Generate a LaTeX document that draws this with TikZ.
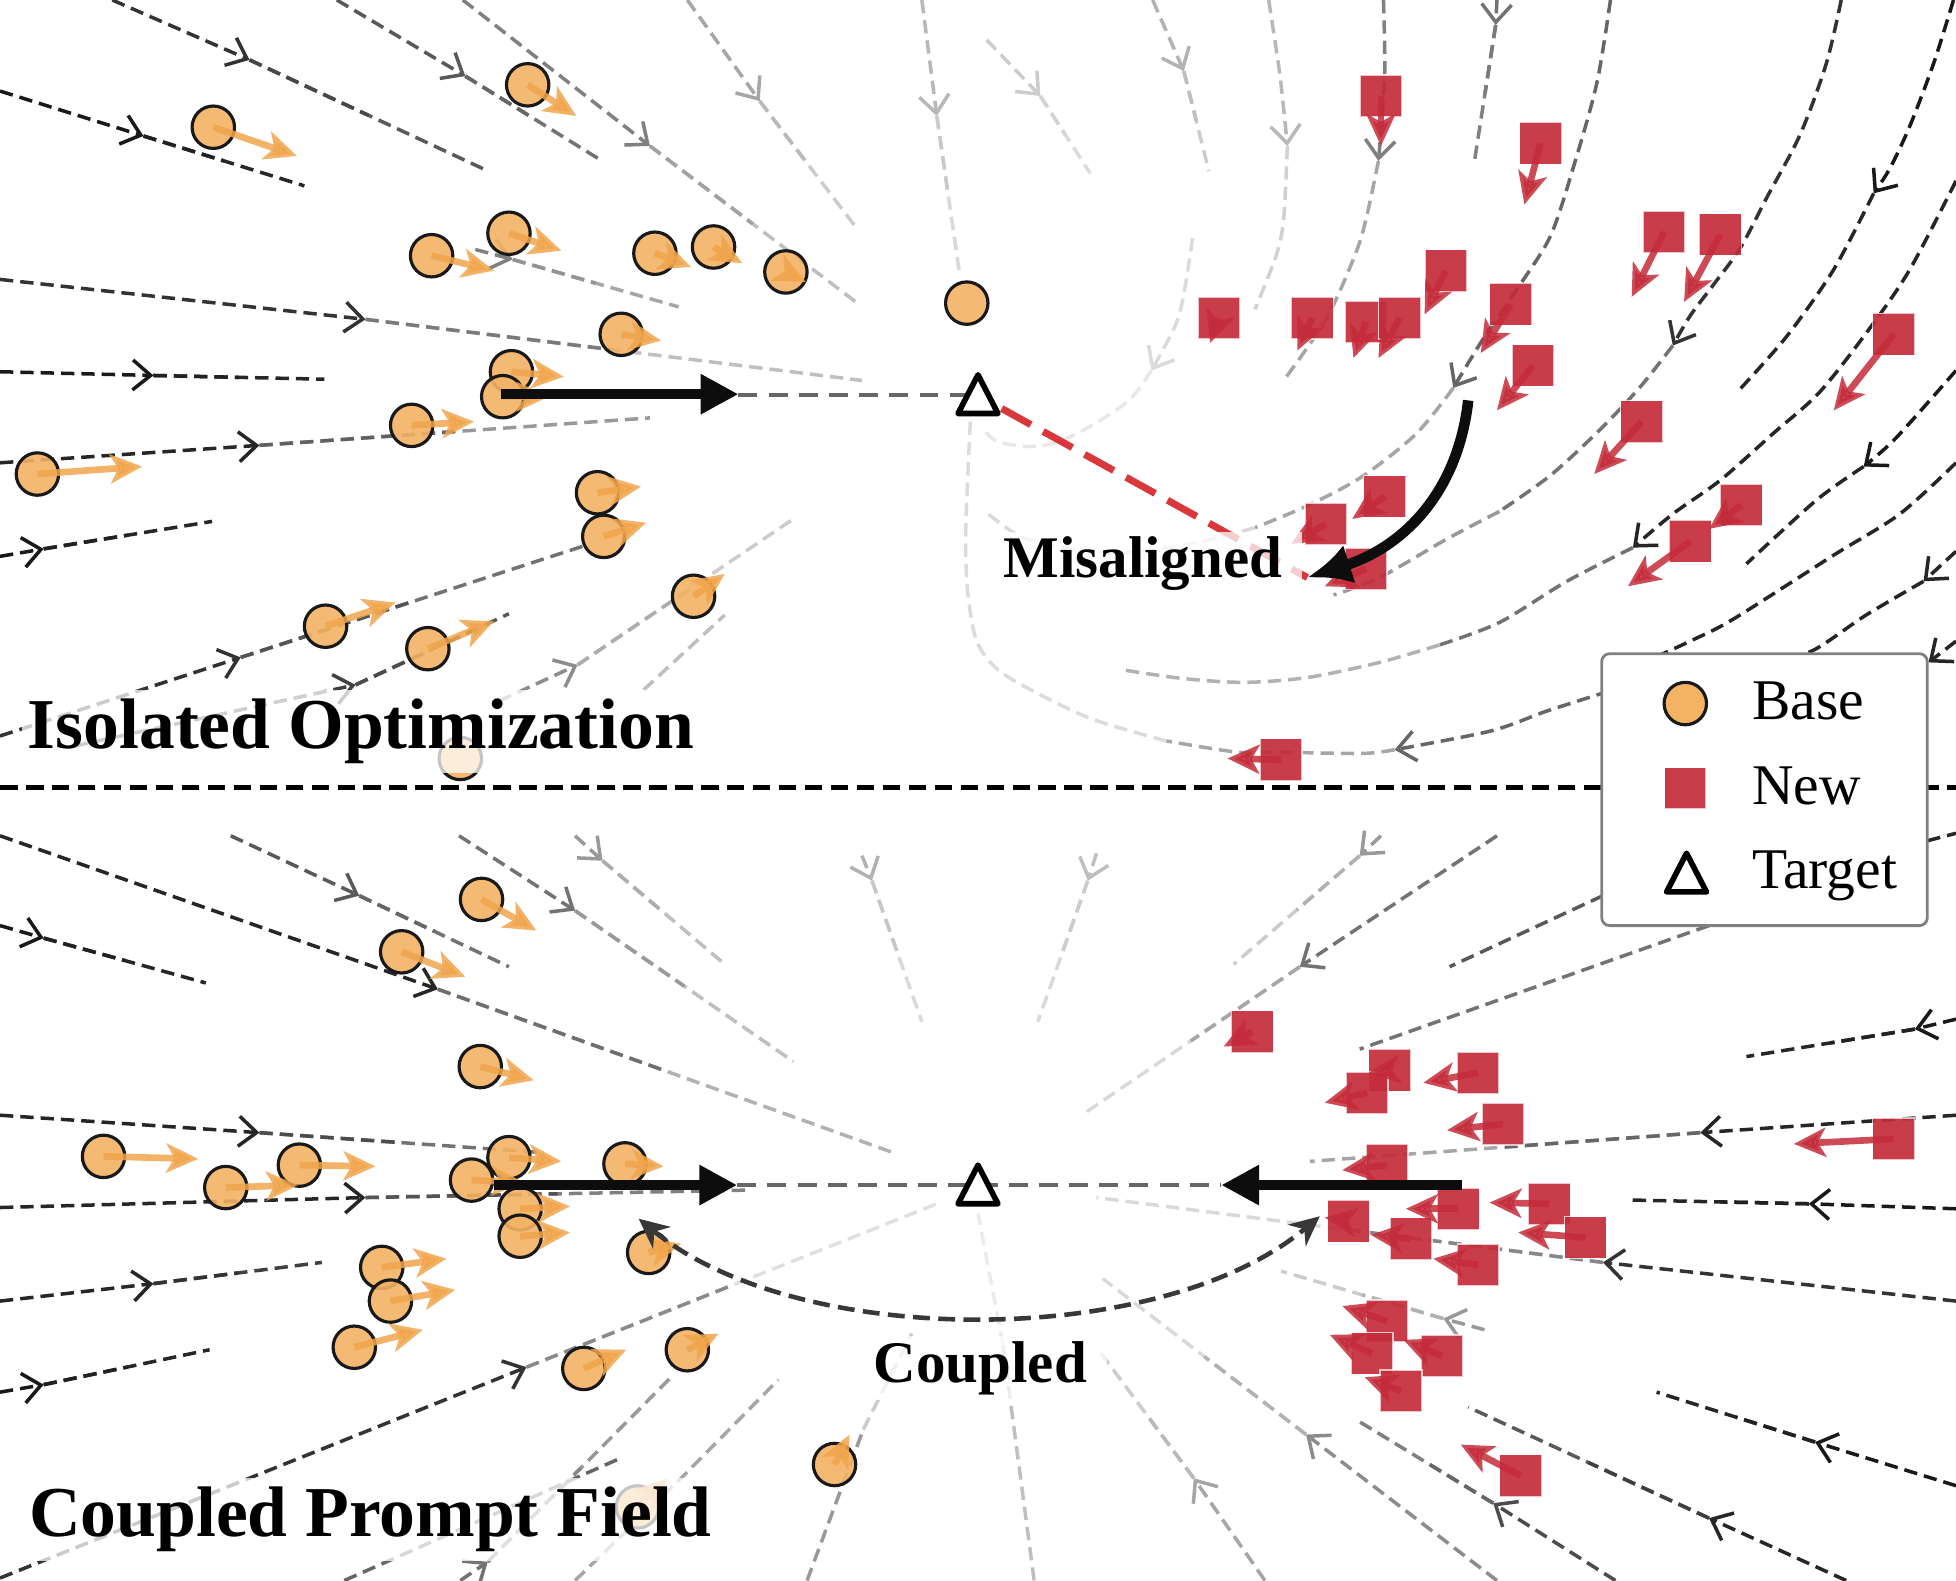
\documentclass[tikz,border=0pt]{standalone}
\usepackage{fontspec}
\setmainfont{Liberation Serif}
\usepackage{xcolor}
\usepackage{tikz}
\usetikzlibrary{arrows.meta,calc}
\definecolor{baseor}{HTML}{F3B264}
\definecolor{basearr}{HTML}{F0A54C}
\definecolor{newred}{HTML}{C42B3A}
\definecolor{misred}{HTML}{D8383C}
\tikzset{
  stream/.style={draw=black!#1,line width=1pt,dash pattern=on 3.8pt off 2pt},
  flow/.style={-{Straight Barb[length=1.8mm,width=3mm]}},
  basept/.style={circle,draw=black!90,line width=.9pt,fill=baseor,fill opacity=.9,minimum size=4.25mm,inner sep=0pt},
  newpt/.style={rectangle,fill=newred,fill opacity=.92,draw=white,draw opacity=.7,line width=.4pt,minimum size=4.2mm,inner sep=0pt},
  basear/.style={draw=basearr,opacity=.85,line width=1.9pt,-{Stealth[length=3.2mm,width=2.9mm,inset=.8mm]}},
  newar/.style={draw=newred,opacity=.85,line width=1.9pt,-{Stealth[length=3.2mm,width=2.9mm,inset=.8mm]}},
  tgt/.style={draw=black,line width=1.6pt,fill=white,line join=round},
  bigar/.style={draw=black!95,line width=2.9pt,-{Triangle[length=3.8mm,width=3.8mm]}},
  bendar/.style={draw=black!95,line width=3pt,-{Latex[length=4.4mm,width=4mm]}},
  tline/.style={draw=black!60,line width=1.2pt,dash pattern=on 5.4pt off 3.2pt},
  misline/.style={draw=misred,line width=2pt,dash pattern=on 9.5pt off 4pt},
  coupar/.style={draw=black!78,line width=1.3pt,dash pattern=on 4.8pt off 2.4pt,{Stealth[length=3mm,width=2.8mm]}-{Stealth[length=3mm,width=2.8mm]}},
  divide/.style={draw=black,line width=1.5pt,dash pattern=on 5pt off 2.4pt},
  title/.style={font=\fontsize{20.4pt}{24pt}\selectfont\bfseries,anchor=base west,fill=white,fill opacity=.75,text opacity=1,inner xsep=.6mm,inner ysep=.9mm},
  tag/.style={font=\fontsize{16.8pt}{20pt}\selectfont\bfseries,anchor=base west,fill=white,fill opacity=.75,text opacity=1,inner xsep=2mm,inner ysep=.5mm},
  legtxt/.style={font=\fontsize{16.4pt}{20pt}\selectfont,anchor=base west,inner sep=0pt},
  legbox/.style={draw=black!50,line width=.8pt,fill=white,rounded corners=.8mm},
}
\newcommand\isobase{423/68/462/93,171/102/238/125,408/187/450/201,346/205/396/217,525/203/554/214,572/198/595/211,630/218/646/226,498/268/530/273,410/298/452/302,403/318/440/318,330/341/380/338,30/380/114/374,479/395/514/390,484/430/518/419,556/478/581/460,261/502/317/483,343/520/396/498}
\newcommand\isonew{1107/77/1107/117,1235/115/1222/164,1334/186/1308/238,1379/188/1350/242,1159/217/1142/252,977/255/970/275,1052/255/1040/281,1095/258/1085/287,1122/255/1105/287,1211/244/1187/283,1229/293/1200/329,1518/268/1470/329,1316/338/1278/380,1110/398/1084/416,1063/420/1035/436,1095/456/1062/470,1396/405/1370/424,1355/434/1305/470,1027/609/984/608}
\newcommand\cpbase{386/721/430/746,322/763/373/783,385/855/428/866,83/927/159/929,240/934/301/935,181/952/239/950,408/928/450/931,378/946/420/948,501/933/532/935,417/969/457/967,417/991/457/988,520/1004/546/997,306/1016/358/1009,313/1043/365/1034,284/1080/339/1066,468/1097/502/1082,551/1082/576/1069,669/1174/681/1150,511/1208/535/1185}
\newcommand\cpnew{1004/827/981/839,1114/858/1097/860,1096/876/1062/884,1185/860/1141/868,1205/901/1160/906,1518/913/1438/917,1112/934/1076/938,1169/969/1127/969,1242/965/1194/964,1081/979/1062/976,1131/993/1099/990,1271/992/1217/988,1185/1014/1149/1009,1112/1059/1076/1047,1100/1085/1066/1070,1156/1087/1125/1074,1123/1115/1094/1104,1219/1183/1171/1158}
\begin{document}
\begin{tikzpicture}[x=0.0125cm,y=-0.0125cm]
  \useasboundingbox (0,0) rectangle (1568,1267);

  % straight stream lines: start / arrow / end / shades
  \foreach \xa/\ya/\xb/\yb/\xc/\yc/\ka/\kb in {
    90/0/200/48/391/137/80/65, 0/73/115/109/244/149/90/85, 270/0/373/61/481/128/65/55,
    371/0/521/117/686/242/50/25, 551/0/609/81/686/182/35/20, 739/0/751/93/769/218/28/15,
    381/200/411/208/544/246/50/35, 0/224/293/256/691/305/80/25, 0/298/123/301/260/304/90/85,
    0/371/208/357/521/335/85/40, 0/446/35/440/170/418/90/85, 0/590/193/527/470/437/80/55,
    60/598/285/549/408/492/75/65, 400/562/463/533/636/416/45/20,
    791/32/834/77/874/139/20/14, 924/0/949/57/969/137/30/20, 1200/0/1199/20/1182/129/55/50,
    0/670/351/793/716/924/85/30, 185/670/288/718/408/775/65/55, 0/742/35/752/165/788/90/85,
    368/670/461/730/636/851/55/25, 461/670/483/690/581/773/40/25, 691/686/699/706/739/819/30/15,
    0/894/208/908/436/924/85/55, 0/968/293/960/601/954/85/50, 0/1043/123/1029/258/1012/85/75,
    0/1116/35/1110/168/1082/90/85, 0/1265/422/1096/751/965/80/12, 369/1267/391/1252/540/1102/55/40,
    879/684/872/706/832/819/25/15, 1107/670/1090/686/989/773/40/20, 1200/670/1042/775/867/894/55/15,
    1568/817/1535/825/1400/847/90/85, 1568/894/1363/908/1050/931/85/35, 1568/969/1450/965/1308/962/90/85,
    1568/1043/1285/1012/879/960/80/15, 1190/1066/1157/1057/1027/1019/40/20, 1568/1191/1455/1156/1328/1116/90/85,
    1480/1267/1370/1217/1177/1128/85/65, 1295/1267/1197/1205/1087/1138/70/50, 1200/1267/1047/1150/884/1025/45/15,
    1014/1267/957/1185/882/1084/35/20}
  {
    \pgfmathtruncatemacro\km{(\ka+\kb)/2}
    \draw[stream=\ka,flow] (\xa,\ya) -- (\xb,\yb);
    \draw[stream=\kb] (\xb,\yb) -- (\xc,\yc);
    \draw[stream=\km] (\xb,\yb) -- ($(\xb,\yb)!.5!(\xc,\yc)$);
  }
  \draw[stream=25] (516,553) -- (581,493);
  \draw[stream=60] (276,1267) -- (495,1170);
  \draw[stream=35] (461,1267) -- (547,1184) -- (624,1106);
  \draw[stream=40] (647,1267) -- (692,1146);
  \draw[stream=20] (692,1146) -- (731,1069);
  \draw[stream=25] (829,1267) -- (804,1078);
  \draw[stream=8] (804,1078) -- (784,973);
  \draw[stream=65] (1285,718) -- (1162,775);
  \draw[stream=55] (1370,742) -- (1090,841);
  \draw[stream=85] (1545,674) -- (1568,668);

  % swirl on the right of the upper panel
  \draw[stream=28,flow] plot[smooth] coordinates {(1017,0) (1026,60) (1032,117)};
  \draw[stream=18] plot[smooth] coordinates {(1032,117) (1029,176) (1023,205) (1006,248)};
  \draw[stream=14,flow] plot[smooth] coordinates {(956,191) (950,230) (943,259) (923,297)};
  \draw[stream=9] plot[smooth] coordinates {(923,297) (906,320) (877,340) (849,354) (826,358) (800,354) (789,345)};
  \draw[stream=50,flow] plot[smooth] coordinates {(1109,0) (1110,61) (1105,129)};
  \draw[stream=35] plot[smooth] coordinates {(1105,129) (1095,176) (1086,205) (1063,256) (1029,305)};
  \draw[stream=60,flow] plot[smooth] coordinates {(1291,0) (1280,67) (1261,135) (1243,189) (1218,229) (1190,270) (1165,311)};
  \draw[stream=35] plot[smooth] coordinates {(1165,311) (1135,348) (1092,382) (1049,405) (1006,423)};
  \draw[stream=15] plot[smooth] coordinates {(1006,423) (963,434) (906,443) (863,441) (820,431) (791,411)};
  \draw[stream=80,flow] plot[smooth] coordinates {(1476,0) (1464,51) (1443,108) (1416,159) (1395,199) (1373,229) (1355,253) (1341,277)};
  \draw[stream=55] plot[smooth] coordinates {(1341,277) (1315,310) (1283,344) (1243,381) (1202,410)};
  \draw[stream=40] plot[smooth] coordinates {(1202,410) (1160,432) (1106,463) (1069,477)};
  \draw[stream=90,flow] plot[smooth] coordinates {(1566,0) (1550,51) (1531,101) (1515,135) (1502,155)};
  \draw[stream=85] plot[smooth] coordinates {(1502,155) (1470,216) (1432,270) (1392,315)};
  \draw[stream=85,flow] plot[smooth] coordinates {(1568,145) (1531,216) (1499,263) (1459,314) (1422,347) (1379,385) (1341,412) (1309,439)};
  \draw[stream=55] plot[smooth] coordinates {(1309,439) (1256,466) (1202,499) (1154,517)};
  \draw[stream=30] plot[smooth] coordinates {(1154,517) (1106,531) (1049,543) (998,547) (949,544) (900,537)};
  \draw[stream=90,flow] plot[smooth] coordinates {(1568,297) (1520,351) (1494,374)};
  \draw[stream=85] plot[smooth] coordinates {(1494,374) (1456,401) (1400,452)};
  \draw[stream=85] plot[smooth] coordinates {(1568,371) (1523,412) (1470,445) (1390,496) (1357,513) (1320,530)};
  \draw[stream=85,flow] (1568,442) -- (1542,466);
  \draw[stream=85] plot[smooth] coordinates {(1542,466) (1496,493) (1456,520) (1420,535)};
  \draw[stream=85,flow] (1568,514) -- (1546,531);
  \draw[stream=60,flow] plot[smooth] coordinates {(1290,554) (1240,570) (1195,586) (1118,601)};
  \draw[stream=35] plot[smooth] coordinates {(1118,601) (1092,604) (1026,603) (992,603) (935,594)};
  \draw[stream=14] plot[smooth] coordinates {(935,594) (877,577) (834,557) (800,537) (783,514) (776,477) (774,434) (776,377) (778,335)};

  % targets
  \coordinate (tgtI) at (784,316.5);
  \coordinate (tgtC) at (784,950);
  \coordinate (misend) at (1048,463);
  \draw[misline] ($(tgtI)+(19,11)$) -- (misend);

  % markers
  \foreach \cx/\cy/\tx/\ty [count=\i] in \isobase {\node[basept] (ib\i) at (\cx,\cy) {};}
  \node[basept] (ib18) at (775,243) {};
  \node[basept] (ib19) at (369,608) {};
  \foreach \cx/\cy/\tx/\ty [count=\i] in \cpbase {\node[basept] (cb\i) at (\cx,\cy) {};}
  \foreach \cx/\cy/\tx/\ty [count=\i] in \isonew {\node[newpt] (in\i) at (\cx,\cy) {};}
  \foreach \cx/\cy/\tx/\ty [count=\i] in \cpnew {\node[newpt] (cn\i) at (\cx,\cy) {};}
  \foreach \cx/\cy/\tx/\ty in \isobase {\draw[basear] (\cx,\cy) -- (\tx,\ty);}
  \foreach \cx/\cy/\tx/\ty in \cpbase {\draw[basear] (\cx,\cy) -- (\tx,\ty);}
  \foreach \cx/\cy/\tx/\ty in \isonew {\draw[newar] (\cx,\cy) -- (\tx,\ty);}
  \foreach \cx/\cy/\tx/\ty in \cpnew {\draw[newar] (\cx,\cy) -- (\tx,\ty);}

  % pulls towards the target
  \draw[tline] (592,316.5) -- (tgtI);
  \draw[tline] (591,950) -- (979,950);
  \draw[bigar] (402,316) -- (592,316);
  \draw[bigar] (396,950) -- (591,950);
  \draw[bigar] (1172,950) -- (979,950);
  \draw[tgt] ($(tgtI)+(0,-16)$) -- ($(tgtI)+(-16,15)$) -- ($(tgtI)+(16,15)$) -- cycle;
  \draw[tgt] ($(tgtC)+(0,-16)$) -- ($(tgtC)+(-16,15)$) -- ($(tgtC)+(16,15)$) -- cycle;

  % labels
  \node[title] (iso) at (17,600) {Isolated Optimization};
  \node[title] (cpf) at (18,1232) {Coupled Prompt Field};
  \node[tag] (mis) at (788,463) {Misaligned};
  \node[tag] (cpl) at (684,1108) {Coupled};
  \draw[bendar] (1177,321) .. controls (1168,400) and (1120,440) .. (misend);
  \draw[coupar] (512,977) .. controls (640,1082) and (930,1082) .. (1058,975);

  % split and legend
  \draw[divide] (0,631) -- (1568,631);
  \draw[legbox] (1284,524) rectangle (1545,742);
  \node[basept,fill opacity=1] (lgbase) at (1351,564) {};
  \node[legtxt] (lgbaset) at (1404,577) {Base};
  \node[newpt,minimum size=4.15mm] (lgnew) at (1351,632) {};
  \node[legtxt] (lgnewt) at (1404,645) {New};
  \coordinate (lgtgt) at (1352,700);
  \draw[tgt] ($(lgtgt)+(0,-16)$) -- ($(lgtgt)+(-16,15)$) -- ($(lgtgt)+(16,15)$) -- cycle;
  \node[legtxt] (lgtgtt) at (1404,712) {Target};
\end{tikzpicture}
\end{document}
